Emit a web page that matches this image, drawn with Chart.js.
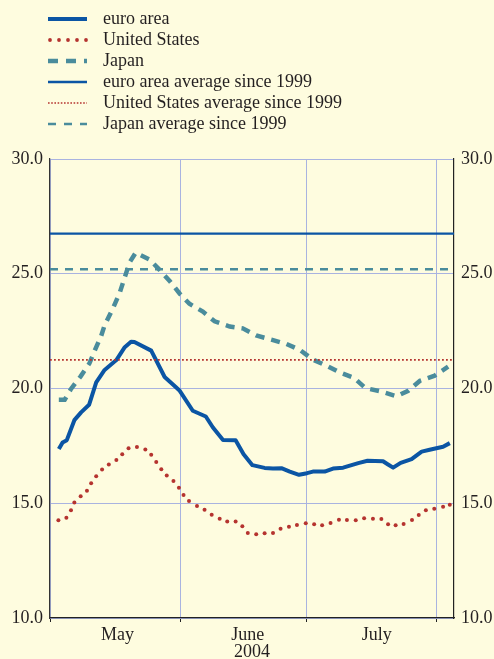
<!DOCTYPE html>
<html>
<head>
<meta charset="utf-8">
<script src="https://cdn.jsdelivr.net/npm/chart.js@4.4.1/dist/chart.umd.min.js"></script>
<style>
  html, body { margin: 0; padding: 0; background: #fefcdf; }
  #wrap { position: relative; width: 494px; height: 659px; }
  #probe { position: absolute; left: -999px; font-family: "Liberation Serif"; font-size: 18px; }
</style>
</head>
<body>
<span id="probe">euro area 2004</span>
<div id="wrap"><canvas id="chart"></canvas></div>
<script>
// Days counted from 1 May 2004
const euroDays = [2.1, 3.0, 4.0, 5.8, 7.4, 9.3, 11.0, 13.0, 15.8, 17.8, 19.3, 20.1, 24.1, 27.3, 30.0, 30.9, 34.0, 37.1, 38.8, 41.2, 44.2, 46.1, 48.2, 51.1, 53.1, 55.1, 57.1, 59.3, 61.2, 62.6, 65.4, 67.4, 69.8, 73.4, 75.6, 79.3, 80.4, 81.7, 83.5, 86.1, 88.5, 90.4, 93.6, 95.2];
const euroValues = [17.36, 17.65, 17.75, 18.62, 18.96, 19.29, 20.27, 20.81, 21.24, 21.80, 22.04, 22.03, 21.65, 20.50, 20.05, 19.90, 19.03, 18.78, 18.30, 17.76, 17.75, 17.14, 16.66, 16.54, 16.51, 16.53, 16.38, 16.24, 16.31, 16.38, 16.38, 16.51, 16.55, 16.75, 16.85, 16.83, 16.70, 16.55, 16.76, 16.92, 17.25, 17.33, 17.46, 17.62];

const usDays = [2.0, 3.9, 5.0, 5.8, 7.3, 8.8, 9.8, 11.0, 12.4, 14.0, 15.8, 17.2, 18.7, 20.7, 22.7, 24.1, 25.3, 26.5, 27.8, 29.4, 30.7, 31.8, 33.1, 35.0, 36.8, 38.5, 40.4, 42.2, 44.2, 45.8, 47.1, 49.1, 51.1, 53.1, 54.9, 56.9, 58.8, 60.9, 62.9, 64.8, 66.8, 68.8, 70.7, 72.8, 74.8, 76.9, 78.9, 80.5, 82.3, 84.2, 86.2, 87.8, 89.5, 91.5, 93.6, 95.2];
const usValues = [14.26, 14.37, 14.69, 15.03, 15.30, 15.55, 15.87, 16.18, 16.47, 16.69, 16.88, 17.14, 17.40, 17.45, 17.34, 17.11, 16.80, 16.48, 16.21, 15.97, 15.68, 15.36, 15.10, 14.88, 14.72, 14.50, 14.33, 14.21, 14.21, 14.00, 13.70, 13.65, 13.69, 13.70, 13.89, 13.98, 14.05, 14.13, 14.08, 14.04, 14.14, 14.28, 14.27, 14.26, 14.35, 14.33, 14.31, 14.08, 14.04, 14.10, 14.27, 14.49, 14.69, 14.76, 14.85, 14.93];

const japanDays = [2.1, 3.5, 5.0, 7.3, 9.4, 10.8, 12.2, 13.0, 15.0, 16.6, 17.8, 19.0, 20.4, 23.7, 26.1, 28.6, 30.9, 33.2, 36.4, 39.2, 42.8, 45.9, 49.1, 52.7, 56.3, 59.5, 62.6, 65.8, 69.0, 72.4, 75.1, 78.8, 82.5, 85.3, 88.1, 91.6, 94.8];
const japanValues = [19.51, 19.51, 19.98, 20.53, 21.10, 21.72, 22.30, 22.75, 23.50, 24.17, 24.85, 25.51, 25.92, 25.62, 25.17, 24.66, 24.13, 23.69, 23.35, 22.93, 22.70, 22.62, 22.31, 22.13, 21.94, 21.68, 21.26, 21.00, 20.70, 20.46, 20.02, 19.87, 19.66, 19.90, 20.34, 20.56, 20.95];

// averages since 1999
const euroAverage = 26.75;
const usAverage = 21.25;
const japanAverage = 25.2;

const monthStarts = [0, 31, 61, 92];
const monthLabelDays = [16.1, 47.1, 77.8];
const monthNames = ['May', 'June', 'July'];
const yearLabel = '2004';
const legendNames = ['euro area', 'United States', 'Japan', 'euro area average since 1999', 'United States average since 1999', 'Japan average since 1999'];

const xMin = 0;
const xMax = 96.2;

const euroColor = '#0b55a4';
const usColor = '#b5332f';
const japanColor = '#4a8c9c';
const gridColor = '#a9b3e0';
const textColor = '#231f20';
const fontFamily = '"Liberation Serif"';

function toPoints(days, values) {
    return days.map((d, i) => ({ x: d, y: values[i] }));
}
function flat(value) {
    return [{ x: xMin, y: value }, { x: xMax, y: value }];
}

// legend drawn above the plot, one entry per row
const legendStyles = [
    { color: euroColor, width: 4, dash: [] },
    { color: usColor, dots: true },
    { color: japanColor, width: 4.5, dash: [10, 8] },
    { color: euroColor, width: 2.5, dash: [] },
    { color: usColor, width: 1.6, dash: [1.6, 1.6] },
    { color: japanColor, width: 2.5, dash: [8, 8] }
];

const stackedLegend = {
    id: 'stackedLegend',
    afterDraw(chart) {
        const ctx = chart.ctx;
        ctx.save();
        legendNames.forEach((name, i) => {
            const y = 19 + i * 21;
            const s = legendStyles[i];
            if (s.dots) {
                ctx.fillStyle = s.color;
                for (let k = 0; k < 5; k++) {
                    ctx.beginPath();
                    ctx.arc(50 + k * 9, y, 1.9, 0, Math.PI * 2);
                    ctx.fill();
                }
            } else {
                ctx.strokeStyle = s.color;
                ctx.lineWidth = s.width;
                ctx.setLineDash(s.dash);
                ctx.beginPath();
                ctx.moveTo(48, y);
                ctx.lineTo(87, y);
                ctx.stroke();
                ctx.setLineDash([]);
            }
            ctx.fillStyle = textColor;
            ctx.font = '18px ' + fontFamily;
            ctx.textBaseline = 'middle';
            ctx.textAlign = 'left';
            ctx.fillText(name, 103, y);
        });
        ctx.restore();
    }
};

const allXTicks = monthStarts.concat(monthLabelDays).sort((a, b) => a - b);

const yTicks = {
    stepSize: 5,
    padding: 7,
    color: textColor,
    font: { family: fontFamily, size: 18 },
    callback: v => v.toFixed(1)
};

function drawChart() {
    Chart.defaults.font.family = fontFamily;
    new Chart(document.getElementById('chart'), {
        type: 'line',
        data: {
            datasets: [
                {
                    label: 'euro area average since 1999',
                    data: flat(euroAverage),
                    borderColor: euroColor,
                    borderWidth: 2.4,
                    pointRadius: 0
                },
                {
                    label: 'Japan average since 1999',
                    data: flat(japanAverage),
                    borderColor: japanColor,
                    borderWidth: 2.5,
                    borderDash: [8, 7],
                    pointRadius: 0
                },
                {
                    label: 'United States average since 1999',
                    data: flat(usAverage),
                    borderColor: usColor,
                    borderWidth: 1.8,
                    borderDash: [1.8, 2.2],
                    pointRadius: 0
                },
                {
                    label: 'Japan',
                    data: toPoints(japanDays, japanValues),
                    borderColor: japanColor,
                    borderWidth: 4.5,
                    borderDash: [9, 7],
                    pointRadius: 0,
                    tension: 0
                },
                {
                    label: 'United States',
                    data: toPoints(usDays, usValues),
                    showLine: false,
                    pointRadius: 2,
                    pointBorderWidth: 0,
                    pointBackgroundColor: usColor
                },
                {
                    label: 'euro area',
                    data: toPoints(euroDays, euroValues),
                    borderColor: euroColor,
                    borderWidth: 4,
                    borderJoinStyle: 'round',
                    pointRadius: 0,
                    tension: 0
                }
            ]
        },
        options: {
            responsive: true,
            maintainAspectRatio: false,
            animation: false,
            layout: { padding: { top: 159, left: 0, right: 0, bottom: 0 } },
            plugins: {
                legend: { display: false },
                tooltip: { enabled: false }
            },
            scales: {
                x: {
                    type: 'linear',
                    min: xMin,
                    max: xMax,
                    afterBuildTicks: scale => {
                        scale.ticks = allXTicks.map(v => ({ value: v }));
                    },
                    afterFit: scale => { scale.height = 41; },
                    grid: {
                        color: c => monthStarts.includes(c.tick && c.tick.value) ? gridColor : 'rgba(0,0,0,0)',
                        tickColor: c => monthStarts.includes(c.tick && c.tick.value) ? '#222' : 'rgba(0,0,0,0)',
                        tickLength: 4,
                        lineWidth: 1
                    },
                    border: { color: '#222', width: 1.2 },
                    ticks: {
                        autoSkip: false,
                        maxRotation: 0,
                        padding: 2,
                        color: textColor,
                        font: { family: fontFamily, size: 18 },
                        callback: v => {
                            const i = monthLabelDays.indexOf(v);
                            return i >= 0 ? monthNames[i] : '';
                        }
                    },
                    title: {
                        display: true,
                        text: yearLabel,
                        color: textColor,
                        padding: 0,
                        font: { family: fontFamily, size: 18, lineHeight: 0.8 }
                    }
                },
                y: {
                    position: 'left',
                    min: 10,
                    max: 30,
                    afterFit: scale => { scale.width = 50; },
                    grid: { color: gridColor, drawTicks: false },
                    border: { color: '#333', width: 1.2 },
                    ticks: yTicks
                },
                y2: {
                    position: 'right',
                    min: 10,
                    max: 30,
                    afterFit: scale => { scale.width = 40; },
                    grid: { display: false, drawTicks: false },
                    border: { color: '#222', width: 1.2 },
                    ticks: yTicks
                }
            }
        },
        plugins: [stackedLegend]
    });
}

document.fonts.load('18px "Liberation Serif"').then(drawChart, drawChart);
</script>
</body>
</html>
